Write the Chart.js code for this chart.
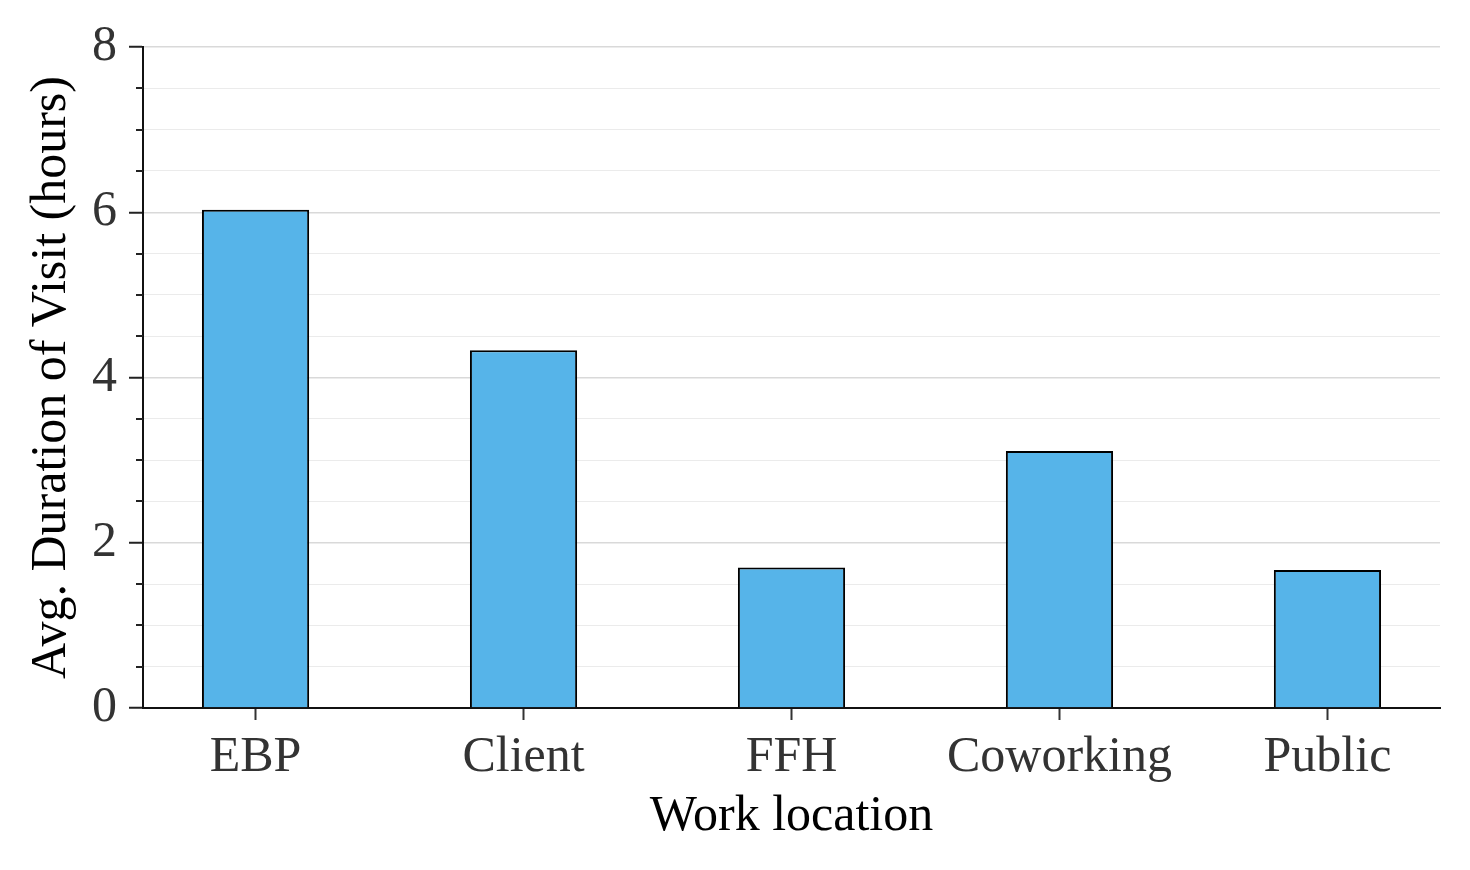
<!DOCTYPE html>
<html>
<head>
<meta charset="utf-8">
<script src="https://cdn.jsdelivr.net/npm/chart.js@4"></script>
<style>
  html, body { margin: 0; padding: 0; background: #fff; }
  #wrap { width: 1470px; height: 870px; }
</style>
</head>
<body>
<div id="wrap"><canvas id="grafico"></canvas></div>
<script>
// dados do grafico
const categorias = ["EBP", "Client", "FFH", "Coworking", "Public"];
const duracaoMedia = [6.03, 4.33, 1.70, 3.11, 1.67];
const ticksY = [0, 2, 4, 6, 8];

const fonte = '"Liberation Serif", "Times New Roman", serif';

// ticks menores do eixo y (a cada 0.5)
const ticksMenores = {
  id: "ticksMenores",
  afterDraw(chart) {
    const y = chart.scales.y;
    const ctx = chart.ctx;
    ctx.save();
    ctx.strokeStyle = "#222";
    ctx.lineWidth = 2;
    for (let v = 0; v <= 8; v += 0.5) {
      if (v % 2 == 0) continue;
      const py = Math.round(y.getPixelForValue(v));
      ctx.beginPath();
      ctx.moveTo(y.right - 7, py);
      ctx.lineTo(y.right, py);
      ctx.stroke();
    }
    ctx.restore();
  }
};

const dados = duracaoMedia.map((v, i) => ({ x: i, y: v }));

new Chart(document.getElementById("grafico"), {
  type: "bar",
  data: {
    datasets: [{
      data: dados,
      backgroundColor: "#56B4E9",
      borderColor: "#000",
      borderWidth: 2,
      barPercentage: 0.4,
      categoryPercentage: 1
    }]
  },
  options: {
    responsive: true,
    maintainAspectRatio: false,
    animation: false,
    layout: { padding: { top: 47, right: 30, bottom: 23, left: 22 } },
    plugins: {
      legend: { display: false },
      tooltip: { enabled: false }
    },
    scales: {
      x: {
        type: "linear",
        offset: false,
        min: -0.42,
        max: 4.42,
        afterBuildTicks(scale) {
          scale.ticks = categorias.map((c, i) => ({ value: i }));
        },
        afterFit(scale) { scale.height = 870 - 708 - 23; },
        ticks: {
          callback: (v) => categorias[v],
          color: "#333",
          font: { family: fonte, size: 50 },
          padding: 8,
          maxRotation: 0,
          autoSkip: false
        },
        grid: {
          offset: false,
          drawOnChartArea: false,
          drawTicks: true,
          tickLength: 12,
          tickColor: "#333",
          tickWidth: 2
        },
        border: { color: "#111", width: 2 },
        title: {
          display: true,
          text: "Work location",
          color: "#000",
          font: { family: fonte, size: 50 },
          padding: { top: 0, bottom: 0 }
        }
      },
      y: {
        min: 0,
        max: 8,
        afterFit(scale) { scale.width = 143 - 22; },
        afterBuildTicks(scale) {
          const t = [];
          for (let v = 0; v <= 8; v += 0.5) t.push({ value: v });
          scale.ticks = t;
        },
        ticks: {
          callback: (v) => (ticksY.includes(v) ? String(v) : ""),
          color: "#333",
          font: { family: fonte, size: 50 },
          padding: 12,
          autoSkip: false
        },
        grid: {
          color: (c) => (c.tick && c.tick.value % 2 == 0 ? "#d9d9d9" : "#ebebeb"),
          lineWidth: (c) => (c.tick && c.tick.value % 2 == 0 ? 1.5 : 1),
          tickLength: 14,
          tickColor: (c) => (c.tick && c.tick.value % 2 == 0 ? "#222" : "rgba(0,0,0,0)"),
          tickWidth: 2
        },
        border: { color: "#111", width: 2 },
        title: {
          display: true,
          text: "Avg. Duration of Visit (hours)",
          color: "#000",
          font: { family: fonte, size: 50 },
          padding: { top: 0, bottom: 2 }
        }
      }
    }
  },
  plugins: [ticksMenores]
});
</script>
</body>
</html>
